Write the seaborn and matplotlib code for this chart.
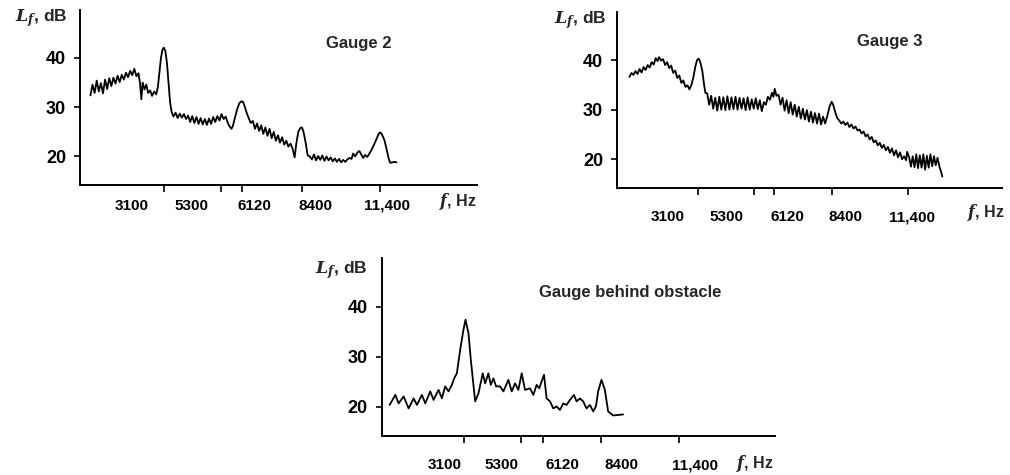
import seaborn as sns
import matplotlib.pyplot as plt
import matplotlib.transforms as mtransforms
import pandas as pd

# Frecuencias marcadas en el eje x (Hz) y sus etiquetas
tick_freqs = [3100, 5300, 6120, 8400, 11400]
tick_labels = ["3100", "5300", "6120", "8400", "11,400"]
level_ticks = [20, 30, 40]

# Gauge 2
g2_freq = [300, 380, 460, 540, 620, 700, 780, 860, 940, 1020, 1100, 1180, 1260, 1340,
           1420, 1500, 1580, 1660, 1740, 1820, 1900, 1980, 2060, 2140, 2200, 2250, 2300,
           2370, 2440, 2510, 2590, 2660, 2740, 2820, 2880, 2940, 3000, 3060, 3110, 3170,
           3230, 3290, 3350, 3410, 3480, 3560, 3640, 3720, 3800, 3880, 3960, 4040, 4120,
           4200, 4280, 4360, 4440, 4520, 4600, 4680, 4760, 4840, 4920, 5000, 5080, 5160,
           5240, 5320, 5400, 5480, 5560, 5640, 5700, 5760, 5840, 5920, 6000, 6080, 6140,
           6200, 6280, 6360, 6440, 6520, 6600, 6680, 6760, 6840, 6920, 7000, 7080, 7160,
           7240, 7320, 7400, 7480, 7560, 7640, 7720, 7800, 7880, 7960, 8040, 8120, 8180,
           8260, 8340, 8400, 8460, 8540, 8620, 8700, 8780, 8860, 8940, 9020, 9100, 9180,
           9260, 9340, 9420, 9500, 9580, 9660, 9740, 9820, 9900, 9980, 10060, 10140, 10220,
           10300, 10360, 10440, 10520, 10600, 10680, 10740, 10820, 10900, 10960, 11060,
           11160, 11260, 11340, 11400, 11460, 11560, 11640, 11720, 11780, 11860, 11940, 12020]
g2_level = [32.4, 34.6, 32.9, 35.4, 33.2, 34.9, 32.8, 35.6, 33.7, 35.9, 34.3, 36.0, 34.8, 36.4,
            35.1, 36.6, 35.6, 37.0, 36.1, 37.4, 36.5, 37.8, 36.3, 36.9, 34.8, 31.6, 35.0,
            33.6, 34.6, 32.9, 33.4, 32.3, 33.2, 32.6, 34.0, 37.0, 40.0, 41.7, 42.1, 41.4,
            39.0, 35.0, 31.0, 29.0, 28.1, 28.9, 27.8, 28.7, 27.9, 28.6, 27.6, 28.3, 27.0,
            28.2, 26.8, 28.0, 26.6, 27.8, 26.5, 27.6, 26.4, 27.7, 26.6, 28.0, 27.0, 28.2,
            27.3, 28.6, 27.6, 28.1, 26.8, 26.0, 25.6, 26.3, 28.0, 29.6, 30.8, 31.2, 31.1,
            30.3, 28.9, 27.8, 26.8, 27.2, 25.6, 26.7, 25.2, 26.3, 24.6, 25.9, 24.2, 25.6,
            23.7, 25.0, 23.2, 24.3, 22.8, 23.9, 22.4, 23.2, 22.0, 22.6, 21.6, 19.8, 22.5,
            25.0, 25.8, 25.9, 25.0, 22.8, 20.2, 20.0, 19.4, 20.4, 19.2, 20.1, 19.3, 20.2,
            19.1, 20.0, 19.2, 19.8, 19.0, 19.6, 18.9, 19.5, 18.8, 19.3, 18.9, 19.4, 19.7,
            19.5, 20.6, 20.0, 20.8, 21.1, 20.3, 19.7, 20.3, 19.9, 20.4, 21.3,
            22.4, 23.6, 24.6, 24.9, 24.5, 23.3, 21.5, 19.6, 18.7, 18.8, 18.9, 18.8]

# Gauge 3
g3_freq = [390, 470, 550, 630, 710, 790, 870, 950, 1030, 1110, 1190, 1270, 1350, 1430, 1500,
           1560, 1640, 1720, 1800, 1880, 1960, 2040, 2120, 2200, 2280, 2360, 2440, 2520,
           2600, 2680, 2760, 2840, 2920, 2990, 3060, 3130, 3200, 3270, 3340, 3390, 3460,
           3540, 3620, 3700, 3780, 3860, 3940, 4020, 4100, 4180, 4260, 4340, 4420, 4500,
           4580, 4660, 4740, 4820, 4900, 4980, 5060, 5140, 5220, 5300, 5380, 5460, 5540,
           5620, 5700, 5780, 5860, 5940, 6020, 6080, 6130, 6200, 6280, 6360, 6440, 6520,
           6600, 6680, 6760, 6840, 6920, 7000, 7080, 7160, 7240, 7320, 7400, 7480, 7560,
           7640, 7720, 7800, 7880, 7960, 8040, 8120, 8200, 8290, 8380, 8440, 8520, 8600,
           8680, 8760, 8840, 8920, 9000, 9080, 9160, 9240, 9320, 9400, 9480, 9560, 9640,
           9720, 9800, 9880, 9960, 10040, 10120, 10200, 10280, 10360, 10440, 10520, 10600,
           10680, 10760, 10840, 10920, 11000, 11080, 11160, 11240, 11320, 11360, 11440,
           11510, 11580, 11650, 11720, 11790, 11860, 11930, 12000, 12070, 12140, 12210,
           12280, 12350, 12420, 12490, 12560, 12640, 12700, 12750]
g3_level = [36.6, 37.4, 37.0, 37.8, 37.2, 38.2, 37.5, 38.6, 38.0, 39.0, 38.5, 39.6, 39.1, 40.4, 39.8,
            40.6, 39.9, 40.2, 39.0, 39.6, 38.4, 38.9, 37.4, 37.9, 36.4, 36.9, 35.4, 35.9,
            34.6, 34.9, 34.1, 35.0, 36.6, 38.6, 40.0, 40.3, 39.4, 37.8, 35.0, 33.4, 33.3,
            31.0, 32.8, 30.2, 32.4, 29.8, 32.6, 30.0, 32.5, 29.9, 32.7, 30.0, 32.5, 30.1,
            32.6, 30.0, 32.4, 30.2, 32.3, 29.9, 32.5, 30.0, 32.1, 30.2, 32.3, 30.1, 31.9,
            29.7, 31.5, 31.0, 32.6, 32.0, 33.4, 32.6, 34.2, 32.8, 33.0, 31.0, 32.4, 29.8,
            31.9, 29.3, 31.5, 29.0, 31.0, 28.6, 30.6, 28.2, 30.2, 28.0, 29.9, 27.6, 29.6,
            27.4, 29.3, 27.2, 29.2, 27.0, 28.6, 27.2, 28.6, 30.5, 31.6, 31.0, 29.5, 28.3,
            27.8, 27.2, 27.6, 26.9, 27.4, 26.5, 27.0, 26.2, 26.6, 25.8, 26.0, 25.2, 25.6,
            24.6, 25.0, 24.0, 24.5, 23.4, 23.8, 22.8, 23.3, 22.3, 22.9, 21.8, 22.5,
            21.3, 22.2, 20.8, 21.8, 20.4, 21.4, 20.0, 20.6, 19.8, 21.5, 20.4,
            18.5, 20.6, 18.4, 21.0, 18.2, 20.8, 18.3, 21.0, 17.9, 20.7, 18.3,
            21.0, 18.6, 20.6, 18.8, 20.3, 18.4, 17.5, 16.5]

# Gauge behind obstacle
gb_freq = [205, 425, 552, 745, 938, 1131, 1260, 1452, 1582, 1775, 1903, 2096, 2225, 2353,
           2482, 2611, 2702, 2804, 2933, 3061, 3139, 3254, 3345, 3512, 3640, 3807, 3898,
           4026, 4116, 4219, 4322, 4477, 4605, 4798, 4927, 5056, 5184, 5313, 5442, 5636,
           5763, 5891, 5995, 6085, 6176, 6277, 6408, 6535, 6663, 6794, 6921, 7049, 7180,
           7334, 7435, 7566, 7693, 7821, 7952, 8079, 8184, 8272, 8400, 8531, 8658, 8851, 9237]
gb_level = [20.4, 22.4, 20.7, 22.1, 19.7, 21.7, 20.4, 22.4, 20.7, 23.1, 21.4, 23.4, 21.7, 24.1,
            23.1, 24.4, 25.7, 26.7, 31.4, 35.4, 37.4, 34.7, 29.4, 21.1, 22.7, 26.7, 24.7,
            26.7, 24.4, 25.7, 24.1, 24.1, 23.1, 25.4, 23.1, 24.7, 23.4, 26.7, 23.4, 23.7,
            22.4, 24.4, 23.7, 25.1, 26.4, 21.7, 21.1, 19.7, 20.1, 19.4, 20.7, 20.4, 21.4,
            22.4, 21.1, 21.7, 21.1, 19.7, 20.4, 19.1, 20.1, 23.1, 25.4, 23.4, 19.1, 18.3, 18.5]

sns.set_style("ticks")
plt.rcParams['font.family'] = ['Liberation Sans', 'DejaVu Sans']
plt.rcParams['mathtext.fontset'] = 'dejavuserif'

fig = plt.figure(figsize=(10.1, 4.75), dpi=100)

# (rect, datos, titulo, posicion titulo, desplazamientos etiquetas px, pad, posicion "f, Hz", posicion "Lf")
paneles = [
    ([0.0792, 0.6105, 0.393, 0.368], g2_freq, g2_level, "Gauge 2", (0.703, 0.811),
     [-32, -30, 12, 14, 7], 5, (0.952, -0.097), (-0.098, 0.954)),
    ([0.6109, 0.6042, 0.381, 0.3705], g3_freq, g3_level, "Gauge 3", (0.709, 0.83),
     [-30, -27, 13, 13, 4], 11, (0.958, -0.142), (-0.096, 0.955)),
    ([0.378, 0.0821, 0.389, 0.3747], gb_freq, gb_level, "Gauge behind obstacle", (0.631, 0.809),
     [-20, -20, 20, 20, 16], 11, (0.95, -0.152), (-0.102, 0.933)),
]

for rect, freq, level, titulo, tpos, offs, pad, fpos, lpos in paneles:
    ax = fig.add_axes(rect)
    df = pd.DataFrame({"f": freq, "L": level})
    sns.lineplot(data=df, x="f", y="L", color="black", linewidth=1.3,
                 estimator=None, sort=False, ax=ax)
    sns.despine(ax=ax)
    for s in ("left", "bottom"):
        ax.spines[s].set_linewidth(1.4)
        ax.spines[s].set_color("black")

    ax.set_xlim(-100, 15100)
    ax.set_ylim(14.2, 49.7)
    ax.set_xlabel("")
    ax.set_ylabel("")

    ax.set_xticks(tick_freqs)
    ax.set_xticklabels(tick_labels, fontsize=11, fontweight="bold")
    ax.set_yticks(level_ticks)
    ax.set_yticklabels([str(v) for v in level_ticks], fontsize=13, fontweight="bold")
    ax.tick_params(axis="x", direction="out", length=5, width=1.2, pad=pad, colors="black")
    ax.tick_params(axis="y", direction="out", length=4, width=1.2, pad=6, colors="black")

    # etiquetas del eje x desplazadas como en la figura original
    for lab, dx in zip(ax.get_xticklabels(), offs):
        lab.set_transform(lab.get_transform() +
                          mtransforms.ScaledTranslation(dx / 100, 0, fig.dpi_scale_trans))

    ax.text(tpos[0], tpos[1], titulo, transform=ax.transAxes, ha="center", va="center",
            fontsize=12, fontweight="bold")
    ax.text(fpos[0], fpos[1], r"$\mathbfit{f}$, Hz", transform=ax.transAxes, ha="center",
            va="center", fontsize=11.5, fontweight="bold")
    ax.text(lpos[0], lpos[1], r"$\mathbfit{L}_{\mathbfit{f}}$, dB", transform=ax.transAxes,
            ha="center", va="center", fontsize=12.5, fontweight="bold")

fig.savefig("out.png", dpi=100)
